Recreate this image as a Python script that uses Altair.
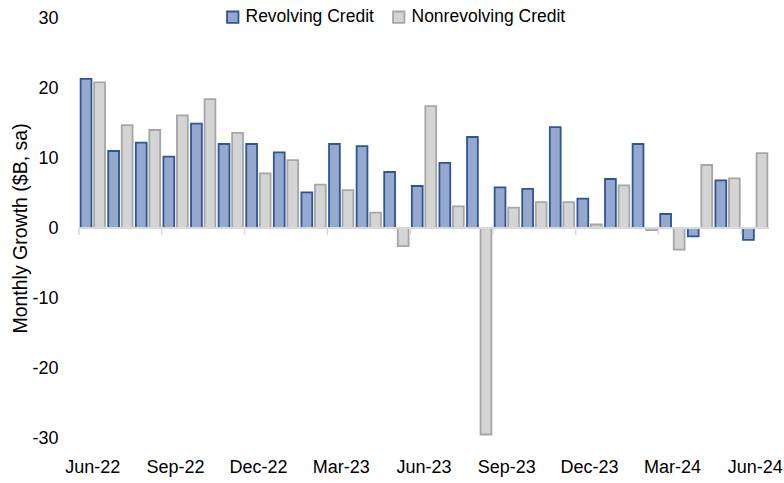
import altair as alt
import pandas as pd

months = ["Jun-22", "Jul-22", "Aug-22", "Sep-22", "Oct-22", "Nov-22", "Dec-22",
          "Jan-23", "Feb-23", "Mar-23", "Apr-23", "May-23", "Jun-23", "Jul-23",
          "Aug-23", "Sep-23", "Oct-23", "Nov-23", "Dec-23", "Jan-24", "Feb-24",
          "Mar-24", "Apr-24", "May-24", "Jun-24"]
revolving = [21.3, 11.0, 12.2, 10.2, 14.9, 12.0, 12.0, 10.8, 5.1, 12.0, 11.7, 8.0,
             6.0, 9.3, 13.0, 5.8, 5.6, 14.4, 4.2, 7.0, 12.0, 2.0, -1.2, 6.8, -1.7]
nonrevolving = [20.8, 14.7, 14.0, 16.1, 18.4, 13.6, 7.8, 9.7, 6.2, 5.4, 2.2, -2.6,
                17.4, 3.1, -29.5, 2.9, 3.7, 3.7, 0.5, 6.1, -0.3, -3.1, 9.0, 7.1, 10.7]
series = ["Revolving Credit", "Nonrevolving Credit"]
y_ticks = [-30, -20, -10, 0, 10, 20, 30]
quarter_labels = months[::3]

fill_colors = ["#94a9cd", "#d4d4d4"]
stroke_colors = ["#2f5597", "#a6a6a6"]
FONT = "Liberation Sans, Arial, sans-serif"

rows = []
for m, r, n in zip(months, revolving, nonrevolving):
    rows.append({"month": m, "series": series[0], "value": r})
    rows.append({"month": m, "series": series[1], "value": n})
df = pd.DataFrame(rows)
ticks_df = pd.DataFrame({"month": quarter_labels})
zero_df = pd.DataFrame({"zero": [0]})

x_scale = alt.Scale(domain=months, paddingInner=0, paddingOuter=0)
x_axis = alt.Axis(values=quarter_labels, title=None, labelAngle=0, ticks=False,
                  tickSize=0, domain=False, labelPadding=20, labelFontSize=18,
                  labelFont=FONT, labelColor="black")

legend = alt.Legend(orient="none", legendX=145, legendY=-10, direction="horizontal",
                    title=None, symbolType="square", symbolSize=130,
                    symbolStrokeWidth=1.8, labelFontSize=17.5, labelFont=FONT,
                    labelColor="black", columnPadding=15, labelOffset=4, padding=0,
                    labelLimit=0)

bars = alt.Chart(df).mark_bar(strokeWidth=1.8).encode(
    x=alt.X("month:N", scale=x_scale, sort=months, axis=x_axis),
    xOffset=alt.XOffset("series:N", sort=series,
                        scale=alt.Scale(domain=series, paddingInner=0.2, paddingOuter=0.12)),
    y=alt.Y("value:Q", scale=alt.Scale(domain=[-30, 30], nice=False, zero=False),
            axis=alt.Axis(values=y_ticks, title="Monthly Growth ($B, sa)", grid=False,
                          domain=False, ticks=False, tickSize=0, labelPadding=21,
                          labelExpr="'' + datum.value",
                          labelFontSize=18, labelFont=FONT, labelColor="black",
                          titleFontSize=19.5, titleFont=FONT, titleFontWeight="normal",
                          titleColor="black", titlePadding=1)),
    color=alt.Color("series:N", sort=series,
                    scale=alt.Scale(domain=series, range=fill_colors), legend=legend),
    stroke=alt.Stroke("series:N", sort=series,
                      scale=alt.Scale(domain=series, range=stroke_colors), legend=legend),
)

zero_line = alt.Chart(zero_df).mark_rule(color="#d9d9d9", strokeWidth=2).encode(
    y=alt.Y("zero:Q")
)

tick_marks = alt.Chart(ticks_df).mark_rule(color="#d9d9d9", strokeWidth=1.5).encode(
    x=alt.X("month:N", scale=x_scale, sort=months, axis=x_axis, bandPosition=0),
    y=alt.datum(0),
    y2=alt.datum(-1.0),
)

chart = alt.layer(bars, zero_line, tick_marks).properties(
    width=690,
    height=420,
    autosize=alt.AutoSizeParams(type="none"),
    padding={"left": 79, "top": 18, "right": 15, "bottom": 45},
).configure_view(stroke=None)

chart.save("out.html", embed_options={"renderer": "svg", "actions": False})
